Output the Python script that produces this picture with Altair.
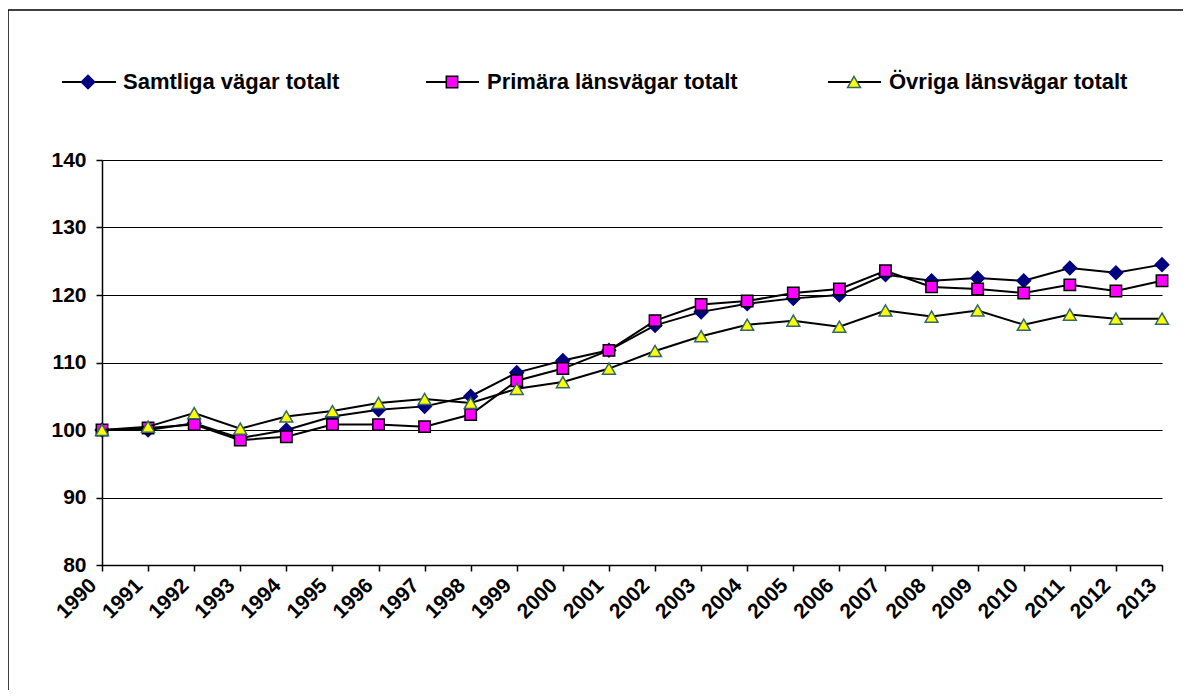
import altair as alt
import pandas as pd

years = list(range(1990, 2014))
series_names = ["Samtliga vägar totalt", "Primära länsvägar totalt", "Övriga länsvägar totalt"]
samtliga = [100.0, 100.0, 101.0, 98.8, 100.0, 102.0, 103.0, 103.5, 105.0, 108.5, 110.3, 111.8,
            115.5, 117.5, 118.7, 119.5, 120.0, 123.0, 122.1, 122.5, 122.1, 124.0, 123.3, 124.5]
primara = [100.0, 100.3, 100.8, 98.5, 99.0, 100.8, 100.8, 100.5, 102.3, 107.3, 109.1, 111.8,
           116.2, 118.6, 119.1, 120.3, 120.9, 123.6, 121.2, 120.9, 120.3, 121.5, 120.6, 122.1]
ovriga = [100.0, 100.5, 102.5, 100.2, 102.0, 102.8, 104.0, 104.6, 104.0, 106.1, 107.1, 109.1,
          111.7, 113.9, 115.6, 116.2, 115.3, 117.7, 116.8, 117.7, 115.6, 117.1, 116.5, 116.5]
y_ticks = [80, 90, 100, 110, 120, 130, 140]

series_values = [samtliga, primara, ovriga]
shapes = ["diamond", "square", "triangle-up"]
fills = ["#000080", "#FF00FF", "#FFFF00"]
strokes = ["#000080", "#000000", "#336666"]
sizes = [180, 130, 165]

FONT = "Liberation Sans"

x_enc = alt.X("year:Q",
              scale=alt.Scale(domain=[1990, 2013], nice=False, zero=False),
              axis=alt.Axis(values=years, format="d", labelAngle=-45, labelAlign="right",
                            labelBaseline="middle", labelPadding=11, labelOffset=-9, tickSize=6,
                            grid=False, title=None, labelOverlap=False,
                            labelFontSize=21))
y_enc = alt.Y("value:Q",
              scale=alt.Scale(domain=[80, 140], nice=False, zero=False),
              axis=alt.Axis(values=y_ticks, grid=True, tickSize=6, labelPadding=10, title=None,
                            labelFontSize=21))

layers = []
for i, (name, vals) in enumerate(zip(series_names, series_values)):
    df = pd.DataFrame({"year": years, "value": vals, "series": name})
    base = alt.Chart(df)
    layers.append(base.mark_line(color="black", strokeWidth=2).encode(x=x_enc, y=y_enc))
    layers.append(base.mark_point(shape=shapes[i], filled=True, fill=fills[i], stroke=strokes[i],
                                  strokeWidth=1.5, size=sizes[i], opacity=1)
                  .encode(x=x_enc, y=y_enc))

# legend (drawn manually, above plot)
one = pd.DataFrame({"a": [0]})
ly = -78
leg_pos = [(-40, 14, -14, 21), (324, 377, 350, 385), (726, 779, 752, 787)]
for i, name in enumerate(series_names):
    x0, x1, xm, xt = leg_pos[i]
    lc = alt.Chart(one)
    layers.append(lc.mark_rule(color="black", strokeWidth=2)
                  .encode(x=alt.value(x0), x2=alt.value(x1), y=alt.value(ly)))
    layers.append(lc.mark_point(shape=shapes[i], filled=True, fill=fills[i], stroke=strokes[i],
                                strokeWidth=1.5, size=sizes[i], opacity=1)
                  .encode(x=alt.value(xm), y=alt.value(ly)))
    layers.append(lc.mark_text(align="left", baseline="middle", font=FONT, fontWeight="bold",
                               fontSize=22, color="black")
                  .encode(x=alt.value(xt), y=alt.value(ly), text=alt.value(name)))

# outer frame
layers.append(alt.Chart(one).mark_rect(fill="transparent", stroke="black", strokeWidth=1.5)
              .encode(x=alt.value(-94), x2=alt.value(1200), y=alt.value(-150), y2=alt.value(700)))

chart = alt.layer(*layers).properties(
    width=1060, height=405,
    autosize=alt.AutoSizeParams(type="none"),
    padding={"left": 94, "top": 152, "right": 21, "bottom": 125},
    background="white",
).configure_view(stroke=None).configure_axis(
    labelFont=FONT, labelFontWeight="bold", labelColor="black",
    domainColor="black", tickColor="black", gridColor="black", gridOpacity=1,
    gridWidth=1, domainWidth=1.5, tickWidth=1.5,
)

chart.save("out.html", embed_options={"renderer": "svg", "actions": False})
